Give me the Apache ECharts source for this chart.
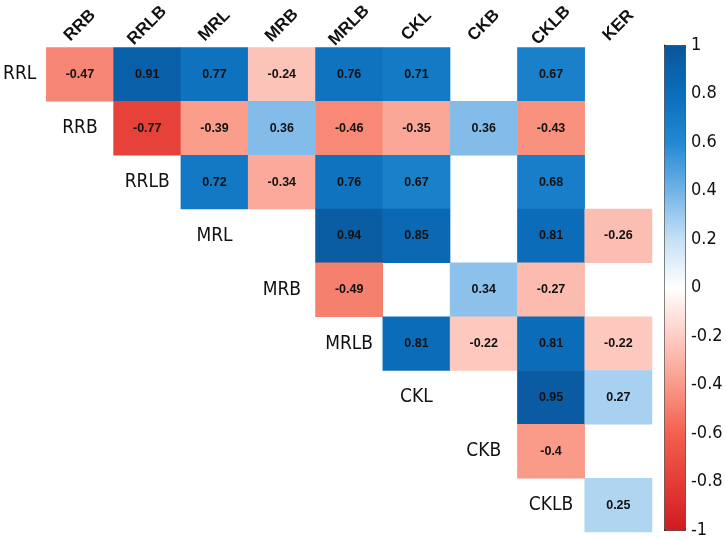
<!DOCTYPE html>
<html>
<head>
<meta charset="utf-8">
<script src="https://cdn.jsdelivr.net/npm/echarts@6/dist/echarts.min.js"></script>
<style>
  html, body { margin: 0; padding: 0; background: #fff; }
  #main { width: 726px; height: 539px; }
</style>
</head>
<body>
<div id="main"></div>
<script>
// column and row names
var colNames = ['RRB', 'RRLB', 'MRL', 'MRB', 'MRLB', 'CKL', 'CKB', 'CKLB', 'KER'];
var rowNames = ['RRL', 'RRB', 'RRLB', 'MRL', 'MRB', 'MRLB', 'CKL', 'CKB', 'CKLB'];

// one row per variable, null = not shown (blank cell)
var rowRRL  = [-0.47, 0.91, 0.77, -0.24, 0.76, 0.71, null, 0.67, null];
var rowRRB  = [null, -0.77, -0.39, 0.36, -0.46, -0.35, 0.36, -0.43, null];
var rowRRLB = [null, null, 0.72, -0.34, 0.76, 0.67, null, 0.68, null];
var rowMRL  = [null, null, null, null, 0.94, 0.85, null, 0.81, -0.26];
var rowMRB  = [null, null, null, null, -0.49, null, 0.34, -0.27, null];
var rowMRLB = [null, null, null, null, null, 0.81, -0.22, 0.81, -0.22];
var rowCKL  = [null, null, null, null, null, null, null, 0.95, 0.27];
var rowCKB  = [null, null, null, null, null, null, null, -0.4, null];
var rowCKLB = [null, null, null, null, null, null, null, null, 0.25];

// colour bar ticks
var barMin = -1, barMax = 1, barStep = 0.2;

var rows = [rowRRL, rowRRB, rowRRLB, rowMRL, rowMRB, rowMRLB, rowCKL, rowCKB, rowCKLB];

var cells = [];
rows.forEach(function (r, i) {
  r.forEach(function (v, j) {
    if (v !== null) cells.push([j, i, v]);
  });
});

// names sitting on the diagonal (row 0 uses the y axis label)
var diagLabels = [];
for (var i = 1; i < rowNames.length; i++) {
  diagLabels.push({ value: [i - 1, i], name: rowNames[i] });
}

var narrow = "'Liberation Sans Narrow', 'Arial Narrow', 'DejaVu Sans Condensed', Roboto, sans-serif";
var sans = "'Liberation Sans', Arial, sans-serif";

var chart = echarts.init(document.getElementById('main'));
chart.setOption({
  animation: false,
  grid: [
    { left: 43, top: 45, width: 609, height: 487 },
    { left: 664, top: 45, width: 21, height: 485 }
  ],
  xAxis: [
    {
      type: 'category',
      data: colNames,
      position: 'top',
      gridIndex: 0,
      axisLine: { show: false },
      axisTick: { show: false },
      splitLine: { show: false },
      axisLabel: {
        interval: 0,
        rotate: -45,
        align: 'center',
        verticalAlign: 'middle',
        margin: 22,
        fontFamily: sans,
        fontWeight: 'bold',
        fontSize: 17,
        color: '#111'
      }
    },
    { type: 'value', gridIndex: 1, show: false, min: 0, max: 1 }
  ],
  yAxis: [
    {
      type: 'category',
      data: rowNames,
      inverse: true,
      gridIndex: 0,
      axisLine: { show: false },
      axisTick: { show: false },
      splitLine: { show: false },
      axisLabel: {
        margin: 10,
        fontFamily: narrow,
        fontSize: 19,
        color: '#111',
        formatter: function (v, idx) { return idx === 0 ? v : ''; }
      }
    },
    {
      type: 'value',
      gridIndex: 1,
      min: barMin,
      max: barMax,
      interval: barStep,
      position: 'right',
      axisLine: { show: true, lineStyle: { color: '#333', width: 1 } },
      axisTick: { show: true, length: 4, lineStyle: { color: '#333' } },
      splitLine: { show: false },
      axisLabel: {
        margin: 6,
        fontFamily: narrow,
        fontSize: 18,
        color: '#111'
      }
    }
  ],
  visualMap: {
    type: 'continuous',
    min: barMin,
    max: barMax,
    seriesIndex: 0,
    calculable: false,
    hoverLink: false,
    left: 664,
    top: 45,
    itemWidth: 21,
    itemHeight: 485,
    padding: 0,
    borderColor: '#333',
    borderWidth: 1,
    text: null,
    inRange: {
      color: ['#cf1a22', '#e43d36', '#f2604f', '#fa9a88', '#fdcdc4', '#ffffff',
              '#c5e0f5', '#72b3e6', '#2289d2', '#0b6ebb', '#0a5599']
    }
  },
  series: [
    {
      type: 'heatmap',
      xAxisIndex: 0,
      yAxisIndex: 0,
      data: cells,
      itemStyle: { borderWidth: 0 },
      label: {
        show: true,
        fontFamily: sans,
        fontWeight: 'bold',
        fontSize: 12.5,
        color: '#111',
        formatter: function (p) { return String(p.value[2]); }
      }
    },
    {
      type: 'scatter',
      xAxisIndex: 0,
      yAxisIndex: 0,
      symbolSize: 0,
      itemStyle: { opacity: 1 },
      data: diagLabels,
      label: {
        show: true,
        position: 'inside',
        fontFamily: narrow,
        fontSize: 19,
        color: '#111',
        opacity: 1,
        formatter: function (p) { return p.name; }
      }
    }
  ]
});
</script>
</body>
</html>
